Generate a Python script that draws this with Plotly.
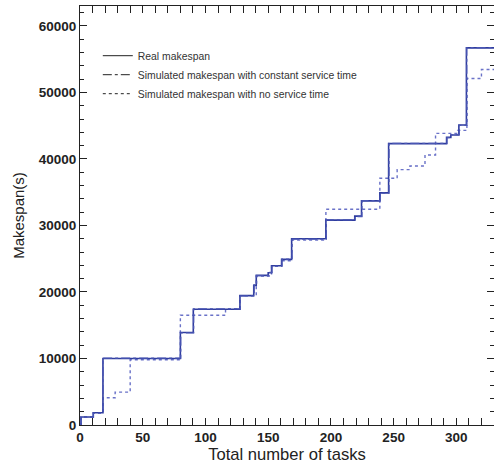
import plotly.graph_objects as go

# Real makespan (step points: task count, makespan in s)
real_x = [0, 0.8, 10.6, 18.3, 80, 90.3, 127.5, 138.5, 140.5, 150, 152.7, 160.7, 168.7, 196, 219, 224.4, 239, 246, 292.2, 295.6, 302, 308, 330]
real_y = [0, 1200, 1850, 10000, 13900, 17400, 19450, 21000, 22500, 22900, 23950, 24900, 28000, 30800, 31400, 33700, 34900, 42300, 43250, 43600, 45100, 56700, 56700]

# Simulated makespan with constant service time
const_x = [0, 0.8, 10.6, 18.3, 80.3, 90.6, 127.8, 138.8, 140.8, 150.3, 153, 161, 169, 196.3, 219.3, 224.7, 239.3, 246.3, 292.5, 295.9, 302.3, 308.3, 330]
const_y = [0, 1150, 1800, 10050, 13850, 17450, 19400, 21050, 22450, 22950, 23900, 24950, 27950, 30850, 31350, 33750, 34850, 42350, 43200, 43650, 45050, 56750, 56750]

# Simulated makespan with no service time
none_x = [0, 0.8, 10.6, 18.3, 28, 40, 80, 116, 127.5, 140.5, 152.7, 160.7, 168.7, 196, 239, 252.8, 263, 275, 283.4, 301, 308.4, 320, 330]
none_y = [0, 1200, 1850, 4100, 4950, 9800, 16500, 17450, 19450, 22400, 23900, 24700, 27800, 32450, 37100, 38400, 38950, 40600, 43850, 44300, 52100, 53450, 53450]

x_ticks = [0, 50, 100, 150, 200, 250, 300]
y_ticks = [0, 10000, 20000, 30000, 40000, 50000, 60000]

names = ["Real makespan",
         "Simulated makespan with constant service time",
         "Simulated makespan with no service time"]

fig = go.Figure()

# data traces (blue)
fig.add_trace(go.Scatter(x=none_x, y=none_y, mode="lines", line_shape="hv",
                         line=dict(color="#6a72c8", width=1.4, dash="dot"), showlegend=False))
fig.add_trace(go.Scatter(x=real_x, y=real_y, mode="lines", line_shape="hv",
                         line=dict(color="#2f3c9e", width=1.6), showlegend=False))
fig.add_trace(go.Scatter(x=const_x, y=const_y, mode="lines", line_shape="hv",
                         line=dict(color="#4a56b4", width=1.3, dash="dashdot"), showlegend=False))

# legend entries (dark)
for nm, dash in zip(names, ["solid", "dashdot", "dot"]):
    fig.add_trace(go.Scatter(x=[None], y=[None], mode="lines", name=nm,
                             line=dict(color="#222222", width=1, dash=dash),
                             legendgroup=nm))

tick_font = dict(family="Liberation Sans, Arial, sans-serif", size=13.5, color="#222", weight="bold")

fig.update_layout(
    width=494, height=466,
    margin=dict(l=80, r=0, t=6, b=41),
    paper_bgcolor="white", plot_bgcolor="white",
    font=dict(family="Liberation Sans, Arial, sans-serif", color="#333333"),
    legend=dict(x=0.043, y=0.916, xanchor="left", yanchor="top",
                bgcolor="rgba(0,0,0,0)", font=dict(size=10.4, color="#333333"),
                tracegroupgap=0, itemwidth=30),
    xaxis=dict(range=[0, 330], tickvals=x_ticks, automargin=False,
               ticks="inside", ticklen=7, tickcolor="#222", showline=True,
               linecolor="#222", linewidth=1, mirror="allticks", showgrid=False,
               zeroline=False, tickfont=tick_font,
               minor=dict(dtick=10, ticks="inside", ticklen=4, tickcolor="#222"),
               title=dict(text="Total number of tasks", font=dict(size=16.6, color="#222"), standoff=0)),
    yaxis=dict(range=[0, 63000], tickvals=y_ticks, tickformat="d", automargin=False,
               ticks="inside", ticklen=7, tickcolor="#222", showline=True,
               linecolor="#222", linewidth=1, showgrid=False, zeroline=False,
               tickfont=tick_font,
               minor=dict(dtick=2000, ticks="inside", ticklen=4, tickcolor="#222"),
               title=dict(text="Makespan(s)", font=dict(size=15, color="#222"), standoff=10)),
    yaxis2=dict(overlaying="y", side="right", range=[0, 63000], tickvals=y_ticks,
                automargin=False,
                ticks="inside", ticklen=7, tickcolor="#222", showticklabels=False,
                showline=False, showgrid=False, zeroline=False,
                minor=dict(dtick=2000, ticks="inside", ticklen=4, tickcolor="#222")),
)

# invisible trace to activate the right axis ticks
fig.add_trace(go.Scatter(x=[None], y=[None], yaxis="y2", showlegend=False, hoverinfo="skip"))

fig.write_html("out.html", config={"displayModeBar": False})

# remove the browser's default page margin so the figure fills the window exactly
with open("out.html", encoding="utf-8") as f:
    html = f.read()
html = html.replace("<head>", "<head><style>html,body{margin:0;padding:0;overflow:hidden;}</style>", 1)
with open("out.html", "w", encoding="utf-8") as f:
    f.write(html)
